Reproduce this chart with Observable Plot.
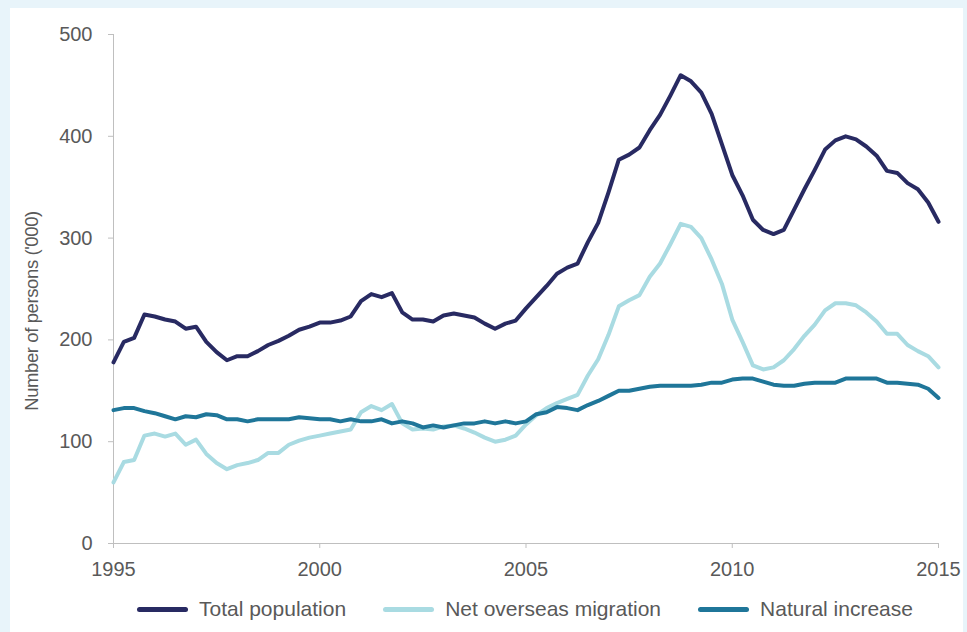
<!DOCTYPE html>
<html>
<head>
<meta charset="utf-8">
<script src="https://cdn.jsdelivr.net/npm/d3@7"></script>
<script src="https://cdn.jsdelivr.net/npm/@observablehq/plot@0.6"></script>
<style>
  html, body { margin: 0; padding: 0; }
  body { background: #e8f4fa; width: 967px; height: 632px; overflow: hidden; position: relative; font-family: "Liberation Sans", Arial, sans-serif; }
  #panel { position: absolute; left: 10px; top: 8px; width: 953px; height: 640px; background: #ffffff; }
  #chart { position: absolute; left: 0; top: 0; }
  #ylabel { position: absolute; left: 22px; top: 303px; width: 0; height: 0; }
  #ylabel span { position: absolute; left: 0; top: 0; transform: translate(-50%, -50%) rotate(-90deg); white-space: nowrap; font-size: 18.5px; color: #595959; letter-spacing: -0.4px; }
  #legend { position: absolute; left: 127px; top: 589px; display: flex; align-items: center; font-size: 21px; color: #595959; white-space: nowrap; }
  .item { display: flex; align-items: center; margin-right: 37px; }
  .sw { width: 51px; height: 5px; border-radius: 3px; margin-right: 11px; }
</style>
</head>
<body>
<div id="panel">
  <div id="chart"></div>
  <div id="ylabel"><span></span></div>
  <div id="legend"></div>
</div>
<script>
// Quarterly series, 1995 to 2015 (thousand persons)
const seriesNames = ["Total population", "Net overseas migration", "Natural increase"];
const seriesColors = ["#282a62", "#a9dbe2", "#1f7699"];
const startYear = 1995;
const yTicks = [0, 100, 200, 300, 400, 500];
const xTicks = [1995, 2000, 2005, 2010, 2015];
const yLabel = "Number of persons ('000)";

const totalPopulation = [
  178,198,202,225,223,220,218,211,213,198,188,180,184,184,189,195,199,204,210,213,217,
  217,219,223,238,245,242,246,227,220,220,218,224,226,224,222,216,211,216,219,231,
  242,253,265,271,275,296,315,345,377,382,389,406,421,440,460,454,443,422,392,362,
  342,318,308,304,308,328,348,367,387,396,400,397,390,381,366,364,354,348,335,316
];
const netOverseasMigration = [
  60,80,82,106,108,105,108,97,102,88,79,73,77,79,82,89,89,97,101,104,106,
  108,110,112,129,135,131,137,118,112,113,112,115,116,113,109,104,100,102,106,117,
  126,133,138,142,146,165,181,205,233,239,244,262,275,294,314,311,300,279,255,220,
  198,175,171,173,180,191,204,215,229,236,236,234,227,218,206,206,195,189,184,173
];
const naturalIncrease = [
  131,133,133,130,128,125,122,125,124,127,126,122,122,120,122,122,122,122,124,123,122,
  122,120,122,120,120,122,118,120,118,114,116,114,116,118,118,120,118,120,118,120,
  127,129,134,133,131,136,140,145,150,150,152,154,155,155,155,155,156,158,158,161,
  162,162,159,156,155,155,157,158,158,158,162,162,162,162,158,158,157,156,152,143
];

const allSeries = [totalPopulation, netOverseasMigration, naturalIncrease];
const rows = [];
allSeries.forEach((vals, s) => {
  vals.forEach((v, i) => rows.push({ series: seriesNames[s], t: startYear + i / 4, value: v }));
});

const chart = Plot.plot({
  width: 953,
  height: 580,
  marginLeft: 103,
  marginRight: 25,
  marginTop: 26,
  marginBottom: 45,
  style: { fontFamily: "'Liberation Sans', Arial, sans-serif", background: "transparent" },
  x: { domain: [1995, 2015] },
  y: { domain: [0, 500] },
  color: { domain: seriesNames, range: seriesColors },
  marks: [
    Plot.ruleX([1995], { stroke: "#bfbfbf", strokeWidth: 1 }),
    Plot.ruleY([0], { stroke: "#bfbfbf", strokeWidth: 1 }),
    Plot.axisY({ ticks: yTicks, tickSize: 5, tickPadding: 16, stroke: "#bfbfbf", fill: "#595959", fontSize: 20, label: null }),
    Plot.axisX({ ticks: xTicks, tickFormat: d => String(d), tickSize: 5, tickPadding: 13, stroke: "#bfbfbf", fill: "#595959", fontSize: 20, label: null }),
    Plot.line(rows, { x: "t", y: "value", z: "series", stroke: "series", strokeWidth: 4, strokeLinejoin: "round", strokeLinecap: "round" })
  ]
});
document.getElementById("chart").appendChild(chart);
document.querySelector("#ylabel span").textContent = yLabel;

const legend = document.getElementById("legend");
seriesNames.forEach((name, i) => {
  const item = document.createElement("div");
  item.className = "item";
  const sw = document.createElement("div");
  sw.className = "sw";
  sw.style.background = seriesColors[i];
  const label = document.createElement("span");
  label.textContent = name;
  item.appendChild(sw);
  item.appendChild(label);
  legend.appendChild(item);
});
</script>
</body>
</html>
